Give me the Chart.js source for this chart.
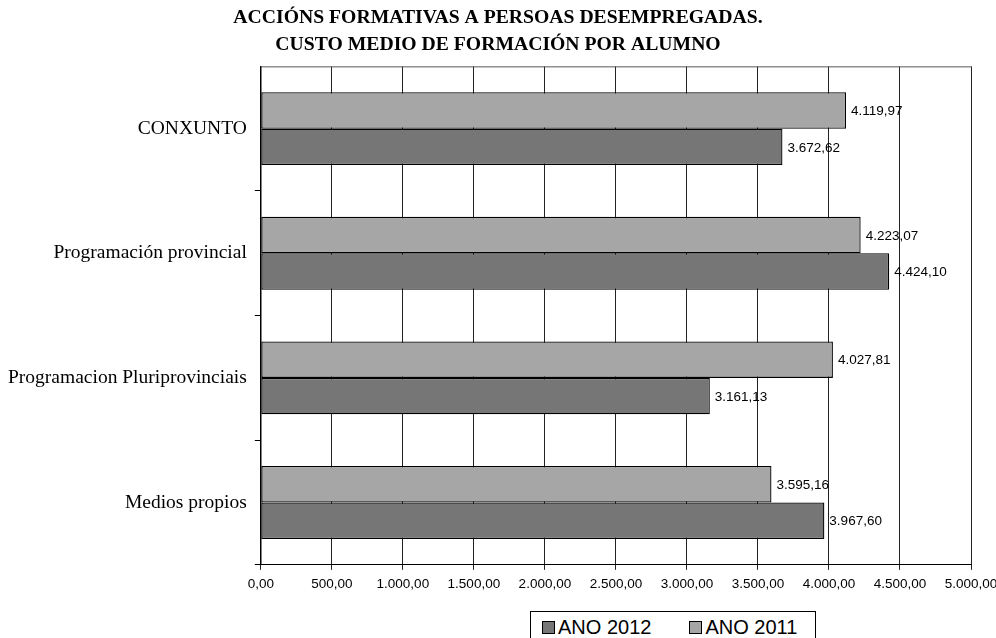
<!DOCTYPE html>
<html>
<head>
<meta charset="utf-8">
<script src="https://cdn.jsdelivr.net/npm/chart.js@4.4.1/dist/chart.umd.min.js"></script>
<style>
  html, body { margin: 0; padding: 0; background: #fff; }
  #wrap { position: relative; width: 996px; height: 638px; overflow: hidden; }
  #lenda {
    position: absolute; left: 530px; top: 611px; width: 286px; height: 40px;
    border: 1px solid #000; box-sizing: border-box; background: #fff;
    font: 20px "Liberation Sans", Arial, sans-serif; color: #000;
    display: flex; padding: 2px 0 0 11px; white-space: nowrap;
  }
  #lenda .item { display: flex; align-items: center; height: 26px; margin-right: 38px; }
  #lenda .cadro { width: 11px; height: 11px; border: 1px solid #000; margin-right: 3px; }
</style>
</head>
<body>
<div id="wrap">
  <canvas id="grafico" width="996" height="638"></canvas>
  <div id="lenda"></div>
</div>
<script>
const categorias = ['CONXUNTO', 'Programación provincial', 'Programacion Pluriprovinciais', 'Medios propios']
const ano2011 = [4119.97, 4223.07, 4027.81, 3595.16]
const ano2012 = [3672.62, 4424.10, 3161.13, 3967.60]
const series = ['ANO 2011', 'ANO 2012']
const cores = ['#a6a6a6', '#767676']

// 4.119,97
function fm(v) {
  const [ent, dec] = Number(v).toFixed(2).split('.')
  return ent.replace(/\B(?=(\d{3})+(?!\d))/g, '.') + ',' + dec
}

// etiquetas de valor ao final de cada barra
const etiquetas = {
  id: 'etiquetas',
  afterDatasetsDraw(chart) {
    const ctx = chart.ctx
    ctx.save()
    ctx.font = '13.5px "Liberation Sans", Arial, sans-serif'
    ctx.fillStyle = '#000'
    ctx.textBaseline = 'middle'
    chart.data.datasets.forEach((ds, i) => {
      chart.getDatasetMeta(i).data.forEach((bar, j) => {
        ctx.fillText(fm(ds.data[j]), bar.x + 5, bar.y + 1)
      })
    })
    ctx.restore()
  }
}

// liña superior da área do gráfico
const marco = {
  id: 'marco',
  beforeDatasetsDraw(chart) {
    const a = chart.chartArea
    const ctx = chart.ctx
    ctx.save()
    ctx.strokeStyle = '#555'
    ctx.lineWidth = 1
    ctx.beginPath()
    ctx.moveTo(a.left, a.top + 0.5)
    ctx.lineTo(a.right + 0.5, a.top + 0.5)
    ctx.stroke()
    ctx.restore()
  }
}

new Chart(document.getElementById('grafico'), {
  type: 'bar',
  data: {
    labels: categorias,
    datasets: [
      { label: series[0], data: ano2011, backgroundColor: cores[0] },
      { label: series[1], data: ano2012, backgroundColor: cores[1] }
    ]
  },
  options: {
    indexAxis: 'y',
    responsive: false,
    animation: false,
    datasets: {
      bar: { categoryPercentage: 0.585, barPercentage: 1, borderColor: '#000', borderWidth: 1.3, borderSkipped: false }
    },
    layout: { padding: { left: 0, right: 0, top: 0, bottom: 40 } },
    plugins: {
      legend: { display: false },
      tooltip: { enabled: false },
      title: {
        display: true,
        text: ['ACCIÓNS FORMATIVAS A PERSOAS DESEMPREGADAS.', 'CUSTO MEDIO DE FORMACIÓN POR ALUMNO'],
        color: '#000',
        font: { family: '"Liberation Serif", "Times New Roman", serif', size: 19.7, weight: 'bold', lineHeight: 1.38 },
        padding: { top: 4, bottom: 8 }
      }
    },
    scales: {
      x: {
        min: 0,
        max: 5000,
        // a última etiqueta (5.000,00) queda cortada no bordo dereito
        afterFit: s => { s.paddingRight = 25 },
        ticks: {
          stepSize: 500,
          color: '#000',
          font: { family: '"Liberation Sans", Arial, sans-serif', size: 13.5 },
          padding: 6,
          callback: v => fm(v)
        },
        grid: { color: '#222', lineWidth: 1, tickLength: 5 },
        border: { color: '#000', width: 1 }
      },
      y: {
        ticks: {
          color: '#000',
          font: { family: '"Liberation Serif", "Times New Roman", serif', size: 19.5 },
          padding: 8
        },
        grid: {
          display: true,
          drawOnChartArea: false,
          color: c => c.index === 0 ? 'rgba(0,0,0,0)' : '#000',
          tickLength: 6,
          offset: true
        },
        border: { color: '#000', width: 1.5 }
      }
    }
  },
  plugins: [etiquetas, marco]
})

// lenda na orde 2012, 2011
const lenda = document.getElementById('lenda')
;[1, 0].forEach(i => {
  const item = document.createElement('div')
  item.className = 'item'
  item.innerHTML = `<span class="cadro" style="background:${cores[i]}"></span><span>${series[i]}</span>`
  lenda.appendChild(item)
})
</script>
</body>
</html>
